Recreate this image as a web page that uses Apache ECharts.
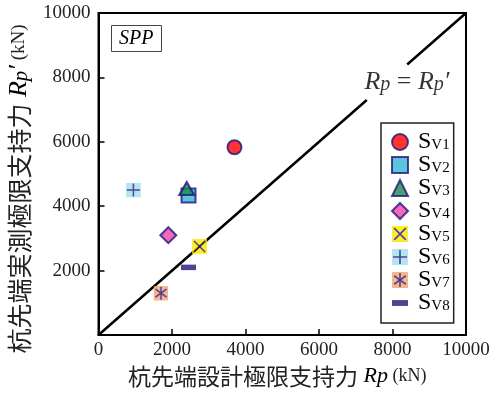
<!DOCTYPE html>
<html>
<head>
<meta charset="utf-8">
<style>
  html, body { margin: 0; padding: 0; background: #fff; }
  #chart { width: 497px; height: 397px; }
</style>
<script src="https://cdn.jsdelivr.net/npm/echarts@6/dist/echarts.min.js"></script>
</head>
<body>
<div id="chart"></div>
<script>
// Pile-tip bearing capacity: design value Rp (x) vs measured value Rp' (y), SPP piles
const seriesIds = ['V1', 'V2', 'V3', 'V4', 'V5', 'V6', 'V7', 'V8'];
const designRp = [3700, 2450, 2400, 1900, 2750, 950, 1700, 2450];     // kN
const measuredRp = [5830, 4330, 4550, 3100, 2750, 4500, 1300, 2100];  // kN
const equalityLine = [[0, 0], [7300, 7300], ['-', '-'], [8400, 8400], [10000, 10000]];
const equalityLabelAt = [7850, 7850];

const NAVY = '#1f1878';
const SERIF = '"Liberation Serif", "DejaVu Serif", serif';
const CJK = '"Noto Sans CJK JP", sans-serif';

function svgSymbol(body) {
  const svg = "<svg xmlns='http://www.w3.org/2000/svg' width='60' height='60' viewBox='0 0 60 60'>" + body + "</svg>";
  return 'image://data:image/svg+xml;charset=utf-8,' + encodeURIComponent(svg);
}
function boxedStrokes(bg, strokes) {
  return svgSymbol("<rect width='60' height='60' fill='" + bg + "'/>" +
    "<path d='" + strokes + "' stroke='" + NAVY + "' stroke-width='6' fill='none'/>");
}

const markerStyles = [
  { symbol: 'circle', size: 14, color: '#ff0000' },
  { symbol: 'rect', size: 14, color: '#36b4d4' },
  { symbol: 'triangle', size: [15, 13], color: '#178a48' },
  { symbol: 'diamond', size: 16, color: '#f042a6' },
  { symbol: boxedStrokes('#ffe600', 'M8 8L52 52M52 8L8 52'), size: 15, image: true },
  { symbol: boxedStrokes('#a6def0', 'M30 4V56M4 30H56'), size: 15, image: true },
  { symbol: boxedStrokes('#f8a272', 'M30 4V56M8 14L52 46M52 14L8 46'), size: 15, image: true },
  { symbol: svgSymbol("<rect x='0' y='19' width='60' height='22' fill='" + NAVY + "'/>"), size: 15, image: true }
];

const scatterSeries = seriesIds.map(function (id, i) {
  const m = markerStyles[i];
  return {
    name: 'S' + id,
    type: 'scatter',
    symbol: m.symbol,
    symbolSize: m.size,
    itemStyle: m.image ? {} : { color: m.color, borderColor: NAVY, borderWidth: 2 },
    z: 5,
    data: [[designRp[i], measuredRp[i]]]
  };
});

const plainNumber = function (v) { return String(v); };

const chart = echarts.init(document.getElementById('chart'), null, { renderer: 'canvas' });

chart.setOption({
  animation: false,
  backgroundColor: '#fff',
  grid: {
    left: 98.5, right: 31, top: 13, bottom: 62,
    containLabel: false, outerBoundsMode: 'none',
    show: true, borderColor: '#000', borderWidth: 2, backgroundColor: 'transparent'
  },
  title: {
    text: 'SPP',
    left: 111, top: 25,
    padding: [4, 8, 3, 8],
    borderColor: '#444', borderWidth: 1,
    textStyle: { fontFamily: SERIF, fontStyle: 'italic', fontWeight: 'normal', fontSize: 20, color: '#000' }
  },
  legend: {
    orient: 'vertical',
    left: 381, top: 123,
    padding: [7, 4, 8, 10],
    itemWidth: 16, itemHeight: 16, itemGap: -1,
    borderColor: '#222', borderWidth: 1.5,
    backgroundColor: '#fff',
    selectedMode: false,
    data: seriesIds.map(function (id) { return 'S' + id; }),
    formatter: function (name) { return '{s|S}{sub|' + name.slice(1) + '}'; },
    textStyle: {
      lineHeight: 22,
      rich: {
        s: { fontFamily: SERIF, fontSize: 24, lineHeight: 22, color: '#000', verticalAlign: 'middle', padding: [0, 0, 0, 5] },
        sub: { fontFamily: SERIF, fontSize: 15, lineHeight: 11, color: '#000', verticalAlign: 'bottom' }
      }
    }
  },
  xAxis: {
    type: 'value', min: 0, max: 10000, interval: 2000,
    name: '{c|杭先端設計極限支持力}{r| Rp}{u| (kN)}',
    nameLocation: 'middle', nameGap: 29,
    nameTextStyle: {
      padding: [0, 10, 0, 0],
      rich: {
        c: { fontFamily: CJK, fontSize: 23, color: '#222' },
        r: { fontFamily: SERIF, fontStyle: 'italic', fontSize: 22, color: '#000' },
        u: { fontFamily: SERIF, fontSize: 18, color: '#222' }
      }
    },
    axisLine: { show: true, lineStyle: { color: '#000', width: 2 } },
    axisTick: { show: true, inside: true, length: 6, lineStyle: { color: '#000', width: 1.5 } },
    axisLabel: { margin: 6, fontFamily: SERIF, fontSize: 19, color: '#222', formatter: plainNumber },
    splitLine: { show: false }
  },
  yAxis: {
    type: 'value', min: 0, max: 10000, interval: 2000,
    name: '{c|杭先端実測極限支持力}{r| R}{p|p}{q|′}{u| (kN)}',
    nameLocation: 'middle', nameRotate: 90, nameGap: 48,
    nameTextStyle: {
      padding: [0, 30, 0, 0],
      rich: {
        c: { fontFamily: CJK, fontSize: 25, color: '#222', verticalAlign: 'middle' },
        r: { fontFamily: SERIF, fontStyle: 'italic', fontSize: 26, lineHeight: 26, color: '#000', verticalAlign: 'middle' },
        p: { fontFamily: SERIF, fontStyle: 'italic', fontSize: 21, lineHeight: 12, color: '#000', verticalAlign: 'bottom' },
        q: { fontFamily: SERIF, fontStyle: 'italic', fontSize: 26, lineHeight: 26, color: '#000', verticalAlign: 'middle' },
        u: { fontFamily: SERIF, fontSize: 19, color: '#222', verticalAlign: 'middle' }
      }
    },
    axisLine: { show: true, lineStyle: { color: '#000', width: 2 } },
    axisTick: { show: true, inside: true, length: 6, lineStyle: { color: '#000', width: 1.5 } },
    axisLabel: { margin: 8, fontFamily: SERIF, fontSize: 19, color: '#222', showMinLabel: false, formatter: plainNumber },
    splitLine: { show: false }
  },
  series: [
    {
      name: 'Rp = Rp′',
      type: 'line',
      data: equalityLine,
      connectNulls: false,
      showSymbol: false,
      symbol: 'none',
      silent: true,
      z: 2,
      lineStyle: { color: '#000', width: 2.5 }
    },
    {
      name: 'equality-label',
      type: 'scatter',
      symbolSize: 0,
      silent: true,
      z: 3,
      data: [equalityLabelAt],
      label: {
        show: true,
        position: 'inside',
        offset: [20, 0],
        formatter: '{r|R}{p|p}{e| = }{r|R}{p|p}{r|′}',
        rich: {
          r: { fontFamily: SERIF, fontStyle: 'italic', fontSize: 26, lineHeight: 26, color: '#000', verticalAlign: 'middle' },
          p: { fontFamily: SERIF, fontStyle: 'italic', fontSize: 20, lineHeight: 12, color: '#000', verticalAlign: 'bottom' },
          e: { fontFamily: SERIF, fontSize: 26, lineHeight: 26, color: '#000', verticalAlign: 'middle' }
        }
      }
    }
  ].concat(scatterSeries)
});
</script>
</body>
</html>
